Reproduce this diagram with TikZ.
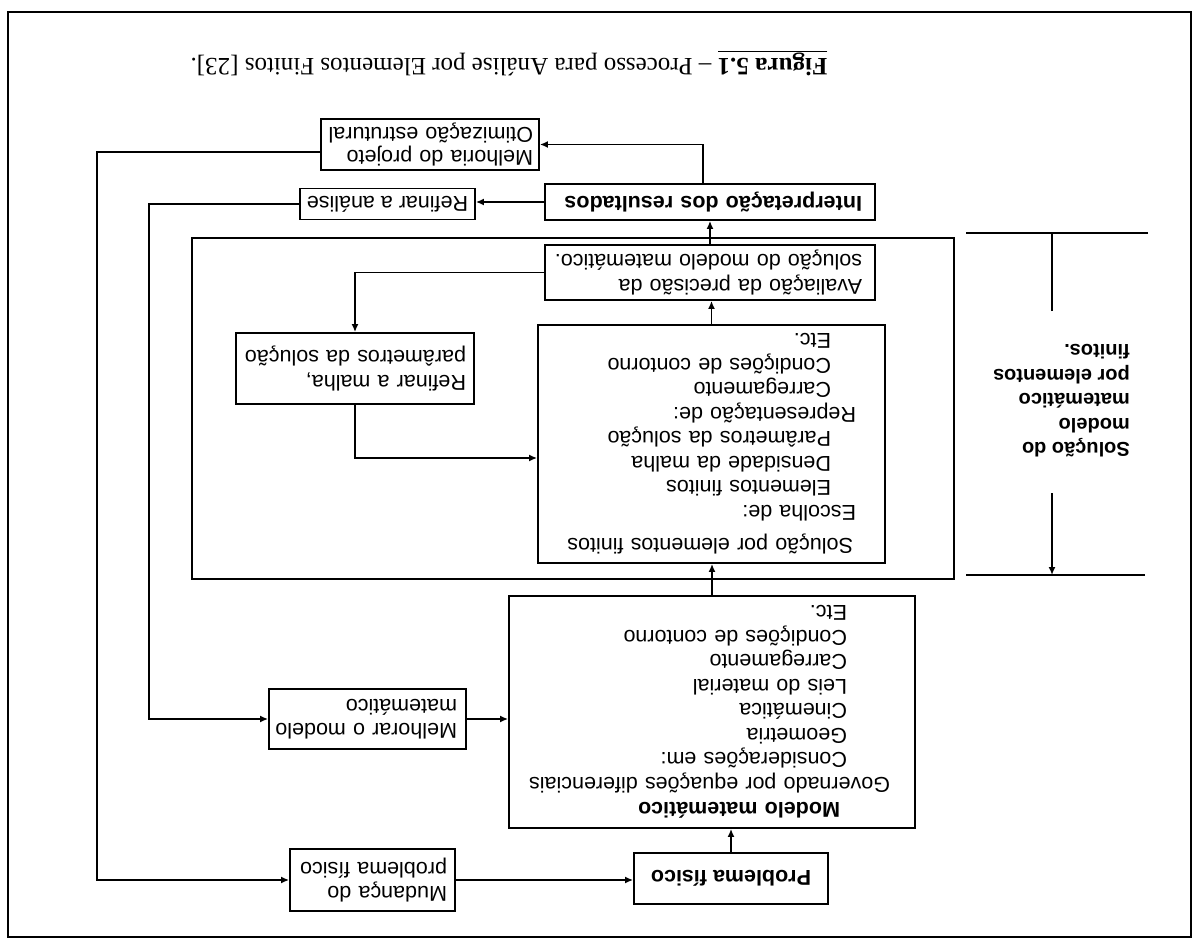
\documentclass[tikz,border=0pt]{standalone}
\usepackage{fontspec}
\setmainfont{Liberation Sans}
\newfontfamily\capfont{Liberation Serif}
\usetikzlibrary{arrows.meta}
% one unbreakable text line inside a box
\newcommand{\tl}[2][0pt]{\hspace*{#1}\mbox{#2}}
\begin{document}
\begin{tikzpicture}[x=1pt,y=-1pt,
  every node/.style={transform shape},
  body/.style={font=\fontsize{21.5}{24.5}\selectfont},
  box/.style={draw, line width=1.8pt, rectangle, inner ysep=0pt, body},
  tbox/.style n args={3}{box, align=left, text width=#1, inner xsep=#2, minimum height=#3},
  link/.style={line width=1.6pt},
  arr/.style={link, -{Latex[length=8pt,width=7pt]}},
  frameline/.style={line width=2pt},
]
% the whole sheet is set upside down
\begin{scope}[rotate around={180:(597.5,472.5)}]
\useasboundingbox (0,0) rectangle (1195,945);
\draw[frameline] (4,8) rectangle (1187,933);

% main column
\node[box, font=\fontsize{21.5}{24.5}\selectfont\bfseries, minimum width=194pt, minimum height=51pt] (problema) at (464,66.5) {Problema físico};

\node[tbox={364pt}{21pt}{232pt}] (modelo) at (483,233) {%
\tl[54pt]{\textbf{Modelo matemático}}\\[1pt]
\tl[4pt]{Governado por equações diferenciais}\\
\tl[47pt]{Considerações em:}\\
\tl[47pt]{Geometria}\\
\tl[47pt]{Cinemática}\\
\tl[47pt]{Leis do material}\\
\tl[47pt]{Carregamento}\\
\tl[47pt]{Condições de contorno}\\
\tl[47pt]{Etc.}};

% region of the finite element solution
\node[draw, frameline, minimum width=762pt, minimum height=341pt, inner sep=0pt] (solframe) at (622,536.5) {};

\node[tbox={289pt}{29pt}{238pt}] (solucao) at (483.5,501) {%
\tl[3pt]{Solução por elementos finitos}\\[9pt]
\tl{Escolha de:}\\
\tl[25pt]{Elementos finitos}\\
\tl[25pt]{Densidade da malha}\\
\tl[25pt]{Parâmetros da solução}\\
\tl{Representação de:}\\
\tl[25pt]{Carregamento}\\
\tl[25pt]{Condições de contorno}\\
\tl[25pt]{Etc.}};

\node[tbox={310pt}{10pt}{55pt}] (avaliacao) at (485,672.5) {%
\tl[3pt]{Avaliação da precisão da}\\
\tl[3pt]{solução do modelo matemático.}};

\node[tbox={310pt}{10pt}{36pt}, font=\fontsize{21.5}{24.5}\selectfont\bfseries] (interp) at (485,743) {%
\tl[3pt]{Interpretação dos resultados}};

% side boxes
\node[tbox={149pt}{8pt}{62pt}] (mudanca) at (822.5,65) {\tl{Mudança do}\\\tl{problema físico}};
\node[tbox={179pt}{9pt}{60pt}] (melhorar) at (827.5,226) {\tl{Melhorar o modelo}\\\tl{matemático}};
\node[tbox={222pt}{8pt}{71pt}] (refmalha) at (840,576.5) {\tl{Refinar a malha,}\\\tl{parâmetros da solução}};
\node[box, minimum width=175pt, minimum height=31pt] (refanalise) at (807.5,741) {Refinar a análise};
\node[tbox={206pt}{6pt}{51pt}, font=\fontsize{21.5}{23}\selectfont] (melhoria) at (765,800.5) {\tl{Melhoria do projeto}\\\tl{Otimização estrutural}};

% caption
\node[font=\capfont\fontsize{25}{30}\selectfont] (caption) at (686,882)
  {\underline{\textbf{Figura 5.1}} – Processo para Análise por Elementos Finitos [23].};

% bracket marking the solution region
\node[font=\fontsize{20}{24.5}\selectfont\bfseries, align=left, anchor=west, inner sep=0pt] (brk) at (65,544)
  {Solução do\\modelo\\matemático\\por elementos\\finitos.};
\coordinate (bkTL) at (50,370);  \coordinate (bkTR) at (229,370);
\coordinate (bkBL) at (47,712);  \coordinate (bkBR) at (229,712);
\coordinate (bkA) at (143,452);  \coordinate (bkB) at (143,634);
\draw[link] (bkTL) -- (bkTR);
\draw[link] (bkBL) -- (bkBR);
\draw[arr] (bkA) -- (bkA |- bkTR);
\draw[link] (bkB) -- (bkB |- bkBR);

% loop columns and bends
\coordinate (outer) at (1098,0);
\coordinate (inner) at (1046,0);
\coordinate (feed) at (840,487);
\coordinate (riser) at (492,0);
\coordinate (melout) at (0,793);

% connectors
\draw[arr] (problema.south) -- (problema.south |- modelo.north);
\draw[arr] (modelo.south) -- (modelo.south |- solucao.north);
\draw[arr] (solucao.south) -- (solucao.south |- avaliacao.north);
\draw[arr] (avaliacao.south) -- (avaliacao.south |- interp.north);
\draw[arr] (interp.east) -- (interp.east -| refanalise.west);
\draw[arr] (interp.south -| riser) |- (melhoria.west);
\draw[arr] (melhoria.east |- melout) -- (melout -| outer) |- (mudanca.east);
\draw[arr] (mudanca.west) -- (mudanca.west -| problema.east);
\draw[arr] (refanalise.east) -- (refanalise.east -| inner) |- (melhorar.east);
\draw[arr] (melhorar.west) -- (melhorar.west -| modelo.east);
\draw[arr] (avaliacao.east) -| (refmalha.south);
\draw[arr] (refmalha.north) -- (feed) -- (feed -| solucao.east);
\end{scope}
\end{tikzpicture}
\end{document}
